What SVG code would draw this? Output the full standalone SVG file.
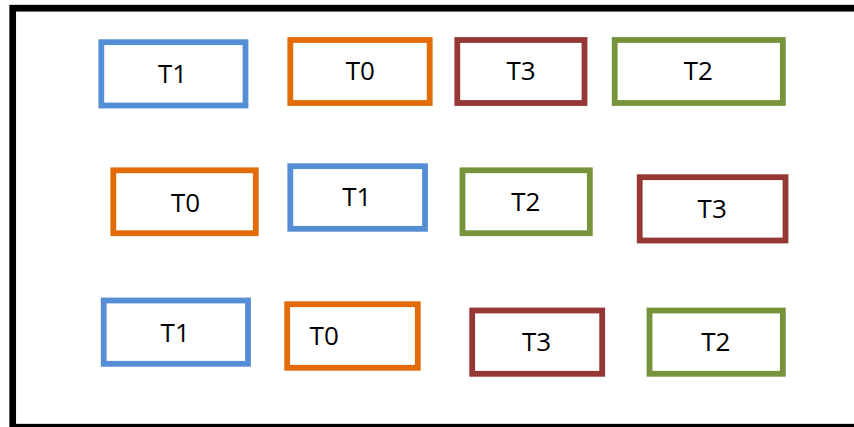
<svg xmlns="http://www.w3.org/2000/svg" width="854" height="427" viewBox="0 0 854 427">
<style>
.box{fill:#fff;stroke-width:5.8}
.b{stroke:#558ED5}.o{stroke:#E36C09}.r{stroke:#953735}.g{stroke:#77933C}
text{font-family:"Open Sans","Liberation Sans",sans-serif;font-size:26px;fill:#000;text-anchor:middle}
</style>
<rect x="0" y="0" width="854" height="427" fill="#fff"/>
<rect x="12.7" y="8.2" width="850" height="419" fill="#fff" stroke="#000" stroke-width="6.7"/>
<g id="connectors"/>
<g id="r1-t1"><rect class="box b" x="101.3" y="42.2" width="144.2" height="63.3"/><text x="172.5" y="82.7">T1</text></g>
<g id="r1-t0"><rect class="box o" x="290.3" y="40" width="139.4" height="63"/><text x="360.3" y="80">T0</text></g>
<g id="r1-t3"><rect class="box r" x="457.3" y="40" width="127.2" height="63"/><text x="521" y="80">T3</text></g>
<g id="r1-t2"><rect class="box g" x="614.7" y="40" width="168.1" height="63"/><text x="698.3" y="80">T2</text></g>
<g id="r2-t0"><rect class="box o" x="113.3" y="170.3" width="142.5" height="62.9"/><text x="185.5" y="211.7">T0</text></g>
<g id="r2-t1"><rect class="box b" x="290.3" y="166.2" width="134.7" height="62.6"/><text x="356.8" y="205.7">T1</text></g>
<g id="r2-t2"><rect class="box g" x="462.5" y="170.3" width="127.3" height="62.9"/><text x="525.8" y="211">T2</text></g>
<g id="r2-t3"><rect class="box r" x="639.7" y="177.2" width="145.8" height="63.3"/><text x="712.2" y="218.3">T3</text></g>
<g id="r3-t1"><rect class="box b" x="103.7" y="300.5" width="144.3" height="63.3"/><text x="175.2" y="341.7">T1</text></g>
<g id="r3-t0"><rect class="box o" x="287.2" y="304.2" width="130.6" height="63.6"/><text x="324.2" y="345">T0</text></g>
<g id="r3-t3"><rect class="box r" x="472.2" y="310.5" width="130" height="63.3"/><text x="536.5" y="351">T3</text></g>
<g id="r3-t2"><rect class="box g" x="649.5" y="310.5" width="133.3" height="63.3"/><text x="715.8" y="351">T2</text></g>
</svg>
